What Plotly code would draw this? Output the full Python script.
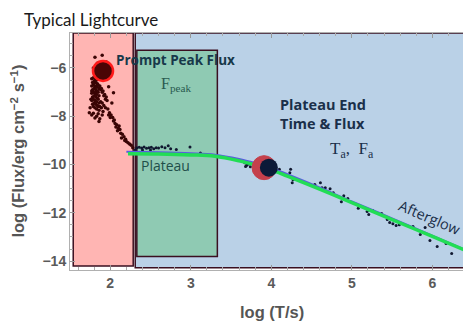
import plotly.graph_objects as go

# ---------------- data ----------------
prompt_t = [1.81, 1.90, 1.84, 1.95, 1.79,
            1.77, 1.78, 1.77, 1.78, 1.77, 1.78, 1.77, 1.78, 1.76, 1.77,
            1.79, 1.80, 1.79, 1.80, 1.79, 1.80, 1.79, 1.80, 1.79, 1.80,
            1.81, 1.82, 1.81, 1.82, 1.81, 1.82, 1.81, 1.82, 1.81, 1.82,
            1.83, 1.84, 1.83, 1.84, 1.83, 1.84, 1.83, 1.84, 1.83, 1.84,
            1.85, 1.86, 1.85, 1.86, 1.85, 1.86, 1.85, 1.86,
            1.87, 1.88, 1.89, 1.90, 1.91, 1.92, 1.93, 1.94, 1.88, 1.90, 1.92, 1.95, 1.96, 1.87, 1.89, 1.91,
            1.75, 1.74, 1.77, 1.81, 1.90, 1.94, 2.04, 2.02, 1.98, 1.85, 1.87, 1.79, 1.83, 1.86,
            1.97, 1.99, 2.01, 2.03, 2.05, 2.06, 2.08, 2.10, 2.12, 2.13, 2.15, 2.17,
            2.19, 2.20, 2.22, 2.24, 2.26, 2.28, 2.04, 2.09, 2.14, 1.98, 2.11, 2.00, 2.07, 2.18]
prompt_f = [-5.55, -5.47, -5.80, -5.75, -6.00,
            -6.45, -6.60, -6.75, -6.90, -7.05, -7.20, -7.35, -7.50, -7.30, -6.95,
            -6.40, -6.55, -6.70, -6.85, -7.00, -7.15, -7.30, -7.45, -7.60, -6.62,
            -6.45, -6.60, -6.75, -6.90, -7.05, -7.20, -7.35, -7.50, -7.65, -6.98,
            -6.50, -6.65, -6.80, -6.95, -7.10, -7.25, -7.40, -7.55, -7.70, -6.72,
            -6.70, -6.85, -7.00, -7.15, -7.30, -7.45, -7.60, -7.75,
            -6.75, -6.90, -6.85, -7.00, -6.95, -7.15, -7.10, -7.30, -7.40, -7.45, -7.55, -7.20, -7.35, -7.60, -7.65, -7.80,
            -7.65, -7.85, -7.95, -8.07, -7.95, -7.65, -7.03, -7.45, -6.78, -7.90, -8.10, -7.88, -8.00, -8.22,
            -7.70, -7.85, -7.95, -8.05, -8.15, -8.30, -8.35, -8.50, -8.55, -8.70, -8.75, -8.85,
            -8.95, -9.05, -9.10, -9.15, -9.20, -9.30, -8.20, -8.60, -8.90, -7.95, -8.40, -8.05, -8.45, -9.00]

late_t = [2.31, 2.33, 2.36, 2.39, 2.40, 2.42, 2.45, 2.48, 2.50, 2.51, 2.54, 2.57, 2.60,
          2.64, 2.68, 2.72, 2.75, 2.82, 2.99, 3.12, 3.20,
          3.67, 3.68, 3.69, 3.70, 3.72, 3.74, 4.10, 4.23, 4.24, 4.26, 4.27,
          4.54, 4.61, 4.63, 4.67, 4.73, 4.77, 4.87, 4.90, 4.95, 5.08, 5.19, 5.21,
          5.26, 5.37, 5.44, 5.47, 5.51, 5.55, 5.59, 5.76, 5.85, 5.91, 5.97, 6.06,
          6.17, 6.24]
late_f = [-9.40, -9.30, -9.28, -9.32, -9.40, -9.27, -9.33, -9.30, -9.40, -9.28, -9.35, -9.30, -9.32,
          -9.26, -9.30, -9.22, -9.35, -9.38, -9.27, -9.52, -9.62,
          -9.93, -10.08, -10.05, -10.00, -9.98, -10.09, -10.20, -10.34, -10.20, -10.75, -10.63,
          -10.83, -10.75, -10.96, -10.96, -11.00, -11.17, -11.54, -11.29, -11.41, -11.81, -11.95, -12.07,
          -11.90, -12.03, -12.28, -12.40, -12.45, -12.53, -12.49, -12.57, -12.90, -12.61, -13.15, -13.40,
          -13.27, -13.69]

blue_t = [2.20, 2.6, 3.0, 3.3, 3.6, 3.8, 4.0, 4.2, 4.6, 5.0, 5.5, 6.0, 6.5]
blue_f = [-9.47, -9.49, -9.53, -9.59, -9.77, -9.94, -10.14, -10.40, -10.95, -11.53, -12.23, -12.95, -13.66]
green_t = [2.22, 2.6, 3.0, 3.3, 3.6, 3.8, 4.0, 4.2, 4.6, 5.0, 5.5, 6.0, 6.5]
green_f = [-9.55, -9.56, -9.60, -9.66, -9.85, -10.02, -10.22, -10.48, -11.02, -11.58, -12.28, -12.98, -13.68]

peak_t, peak_f = [1.91], [-6.12]
end_t_red, end_f_red = [3.91], [-10.13]
end_t_navy, end_f_navy = [3.97], [-10.13]

x_ticks = [2, 3, 4, 5, 6]
y_ticks = [-14, -12, -10, -8, -6]

# ---------------- figure ----------------
fig = go.Figure()

edge = "#3a0f20"
fig.add_shape(type="rect", x0=2.31, x1=6.7, y0=-14.28, y1=-4.55,
              fillcolor="#bad1e7", line=dict(color=edge, width=1.5), layer="below")
fig.add_shape(type="rect", x0=1.54, x1=2.285, y0=-14.2, y1=-4.55,
              fillcolor="#ffb5b3", line=dict(color=edge, width=1.5), layer="below")
fig.add_shape(type="rect", x0=2.33, x1=3.33, y0=-13.81, y1=-5.26,
              fillcolor="#8fcab3", line=dict(color=edge, width=1.5), layer="below")

fig.add_trace(go.Scatter(x=prompt_t, y=prompt_f, mode="markers",
                         marker=dict(size=3.5, color="#3a0505"), hoverinfo="skip"))
fig.add_trace(go.Scatter(x=late_t, y=late_f, mode="markers",
                         marker=dict(size=3, color="#101830"), hoverinfo="skip"))
fig.add_trace(go.Scatter(x=blue_t, y=blue_f, mode="lines", line=dict(color="#5a5ce0", width=2, shape="spline")))
fig.add_trace(go.Scatter(x=green_t, y=green_f, mode="lines", line=dict(color="#22dd55", width=3.5, shape="spline")))

fig.add_trace(go.Scatter(x=peak_t, y=peak_f, mode="markers",
                         marker=dict(size=20, color="#4a0505", line=dict(color="#ff1a1a", width=2.5))))
fig.add_trace(go.Scatter(x=end_t_red, y=end_f_red, mode="markers",
                         marker=dict(size=24, color="#c4404c", line=dict(color="#c4404c", width=1))))
fig.add_trace(go.Scatter(x=end_t_navy, y=end_f_navy, mode="markers",
                         marker=dict(size=18, color="#0b1a38")))

ann_font = "Open Sans"
fig.add_annotation(x=2.81, y=-5.67, text="<b>Prompt Peak Flux</b>", showarrow=False,
                   font=dict(family=ann_font, size=13.5, color="#17384a"))
fig.add_annotation(x=2.82, y=-6.7, text="F<sub>peak</sub>", showarrow=False,
                   font=dict(family="Liberation Serif", size=16, color="#2a5a50"))
fig.add_annotation(x=2.68, y=-10.05, text="Plateau", showarrow=False,
                   font=dict(family=ann_font, size=14, color="#1f4f4a"))
fig.add_annotation(x=4.08, y=-7.92, text="<b>Plateau End<br>Time &amp; Flux</b>", showarrow=False,
                   xanchor="left", align="left",
                   font=dict(family=ann_font, size=14.5, color="#1a2f4a"))
fig.add_annotation(x=5.0, y=-9.4, text="T<sub>a</sub>,  F<sub>a</sub>", showarrow=False,
                   font=dict(family="Liberation Serif", size=17, color="#1a2f4a"))
fig.add_annotation(x=5.97, y=-12.2, text="Afterglow", showarrow=False, textangle=23,
                   font=dict(family=ann_font, size=14.5, color="#1a2f4a"))

# axis titles (page has an 8px body margin; figure is sized to fit)
fig.add_annotation(xref="paper", yref="paper", x=-0.132, y=0.5, xanchor="center", yanchor="middle",
                   text="log (Flux/erg cm<sup>−2</sup> s<sup>−1</sup>)", textangle=-90,
                   showarrow=False, font=dict(family="Liberation Sans", size=16.5, color="#555555", weight="bold"))
fig.add_annotation(xref="paper", yref="paper", x=0.504, y=-0.177, xanchor="center", yanchor="middle",
                   text="log (T/s)", showarrow=False,
                   font=dict(family="Liberation Sans", size=16.5, color="#555555", weight="bold"))

fig.update_layout(
    width=463, height=314,
    margin=dict(l=62, r=0, t=25, b=52),
    paper_bgcolor="white", plot_bgcolor="white",
    showlegend=False,
    title=dict(text="Typical Lightcurve", xref="container", yref="container",
               x=16/463, xanchor="left", y=1-12/314, yanchor="middle",
               font=dict(family="Lato", size=17, color="#1a1a1a")),
)
fig.update_xaxes(range=[1.5, 6.48], tickvals=x_ticks, ticktext=[str(v) for v in x_ticks],
                 showgrid=False, zeroline=False, showline=True, linecolor="#b0b0b0", linewidth=1,
                 ticks="inside", ticklen=5, tickcolor="#999999", mirror="allticks",
                 minor=dict(dtick=0.2, ticks="inside", ticklen=3, tickcolor="#aaaaaa", showgrid=False),
                 tickfont=dict(family="Liberation Sans", size=14, color="#5a5a5a", weight="bold"))
fig.update_yaxes(range=[-14.37, -4.55], tickvals=y_ticks, ticktext=["−" + str(-v) for v in y_ticks],
                 showgrid=False, zeroline=False, showline=True, linecolor="#b0b0b0", linewidth=1,
                 ticks="inside", ticklen=5, tickcolor="#999999", mirror="allticks",
                 minor=dict(dtick=0.5, ticks="inside", ticklen=3, tickcolor="#aaaaaa", showgrid=False),
                 tickfont=dict(family="Liberation Sans", size=14, color="#5a5a5a", weight="bold"))

fig.write_html("out.html")
